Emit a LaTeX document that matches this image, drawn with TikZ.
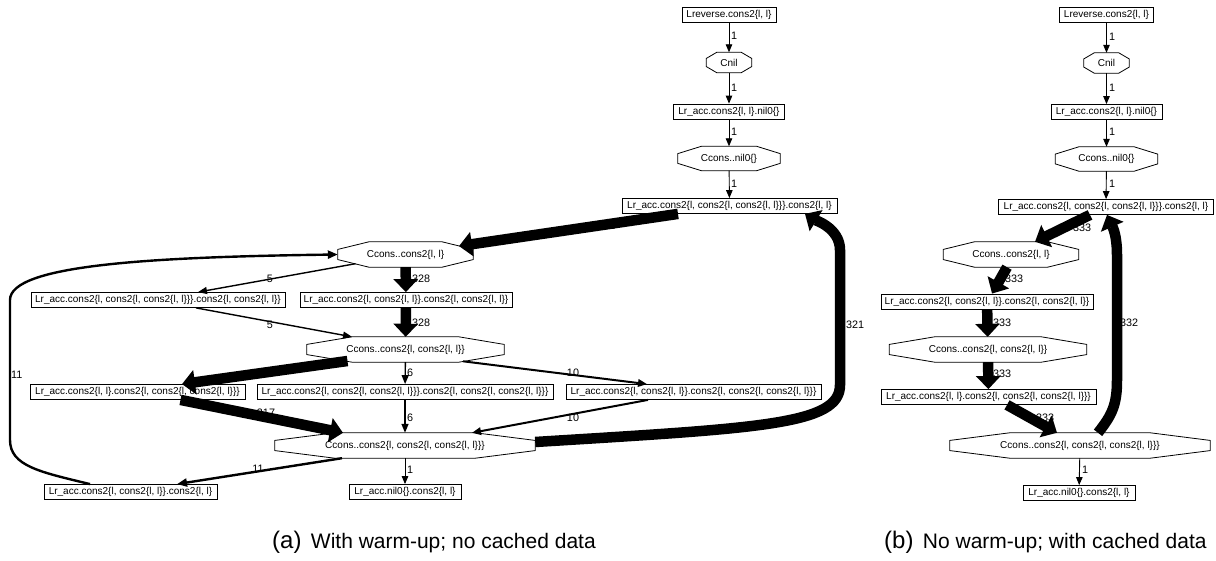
\documentclass[tikz,border=0pt]{standalone}
\usepackage{fontspec}
\setmainfont{Liberation Sans}
\usetikzlibrary{arrows.meta,calc}
\begin{document}
\begin{tikzpicture}[x=1pt,y=-1pt,
  every node/.style={font=\fontsize{10}{12}\selectfont},
  box/.style={draw, line width=0.8pt, rectangle, minimum height=15pt, inner xsep=1pt, inner ysep=0pt},
  octnode/.style={rectangle, minimum height=25pt, inner sep=0pt},
  octline/.style={draw, line width=0.8pt},
  lab/.style={inner sep=0pt, anchor=west, font=\fontsize{10.8}{12}\selectfont},
  labc/.style={inner sep=0pt, font=\fontsize{10.8}{12}\selectfont},
  capt/.style={inner sep=0pt, font=\fontsize{21}{24}\selectfont},
  tag/.style={inner sep=0pt, font=\fontsize{24}{28}\selectfont},
  e1/.style={draw, line width=0.9pt, -{Triangle[length=8pt,width=6.5pt]}},
  e5/.style={draw, line width=1.4pt, -{Triangle[length=9pt,width=7pt]}},
  e10/.style={draw, line width=2pt, -{Triangle[length=9pt,width=7.5pt]}},
  e11/.style={draw, line width=2.4pt, -{Triangle[length=10pt,width=8pt]}},
  ethick/.style={draw, line width=10.5pt, -{Triangle[length=13pt,width=24pt]}},
]
\useasboundingbox (0,0) rectangle (1216,561);

% ---------- graph (a) ----------
\node[box, minimum width=94pt] (a1) at (729,14.5) {Lreverse.cons2\{l, l\}};
\node[octnode, minimum width=45pt, minimum height=20pt] (a2) at (729,62.5) {Cnil};
\node[box, minimum width=111pt] (a3) at (729,111.5) {Lr\_acc.cons2\{l, l\}.nil0\{\}};
\node[octnode, minimum width=102pt, minimum height=24pt] (a4) at (729,158.5) {Ccons..nil0\{\}};
\node[box, minimum width=215pt] (a5) at (729.5,206) {Lr\_acc.cons2\{l, cons2\{l, cons2\{l, l\}\}\}.cons2\{l, l\}};
\node[octnode, minimum width=135pt] (a6) at (405.5,254.5) {Ccons..cons2\{l, l\}};
\node[box, minimum width=254pt] (a7) at (158,300) {Lr\_acc.cons2\{l, cons2\{l, cons2\{l, l\}\}\}.cons2\{l, cons2\{l, l\}\}};
\node[box, minimum width=212pt] (a8) at (406,300) {Lr\_acc.cons2\{l, cons2\{l, l\}\}.cons2\{l, cons2\{l, l\}\}};
\node[octnode, minimum width=197pt] (a9) at (405.5,349.5) {Ccons..cons2\{l, cons2\{l, l\}\}};
\node[box, minimum width=215pt] (a10) at (137.5,392) {Lr\_acc.cons2\{l, l\}.cons2\{l, cons2\{l, cons2\{l, l\}\}\}};
\node[box, minimum width=296pt] (a11) at (405,392) {Lr\_acc.cons2\{l, cons2\{l, cons2\{l, l\}\}\}.cons2\{l, cons2\{l, cons2\{l, l\}\}\}};
\node[box, minimum width=255pt] (a12) at (693.5,392) {Lr\_acc.cons2\{l, cons2\{l, l\}\}.cons2\{l, cons2\{l, cons2\{l, l\}\}\}};
\node[octnode, minimum width=260pt] (a13) at (405,445.5) {Ccons..cons2\{l, cons2\{l, cons2\{l, l\}\}\}};
\node[box, minimum width=173pt] (a14) at (130.5,492) {Lr\_acc.cons2\{l, cons2\{l, l\}\}.cons2\{l, l\}};
\node[box, minimum width=112pt] (a15) at (405,492) {Lr\_acc.nil0\{\}.cons2\{l, l\}};

% ---------- graph (b) ----------
\node[box, minimum width=94pt] (b1) at (1106.5,15) {Lreverse.cons2\{l, l\}};
\node[octnode, minimum width=45pt, minimum height=20pt] (b2) at (1106.5,63) {Cnil};
\node[box, minimum width=111pt] (b3) at (1106.5,112) {Lr\_acc.cons2\{l, l\}.nil0\{\}};
\node[octnode, minimum width=102pt, minimum height=24pt] (b4) at (1106.5,159) {Ccons..nil0\{\}};
\node[box, minimum width=215pt] (b5) at (1106,207) {Lr\_acc.cons2\{l, cons2\{l, cons2\{l, l\}\}\}.cons2\{l, l\}};
\node[octnode, minimum width=135pt] (b6) at (1011,254.5) {Ccons..cons2\{l, l\}};
\node[box, minimum width=212pt] (b7) at (987,301.5) {Lr\_acc.cons2\{l, cons2\{l, l\}\}.cons2\{l, cons2\{l, l\}\}};
\node[octnode, minimum width=197pt] (b8) at (988,349.5) {Ccons..cons2\{l, cons2\{l, l\}\}};
\node[box, minimum width=215pt] (b9) at (988.5,397) {Lr\_acc.cons2\{l, l\}.cons2\{l, cons2\{l, cons2\{l, l\}\}\}};
\node[octnode, minimum width=260pt] (b10) at (1080,445.5) {Ccons..cons2\{l, cons2\{l, cons2\{l, l\}\}\}};
\node[box, minimum width=112pt] (b11) at (1079,493) {Lr\_acc.nil0\{\}.cons2\{l, l\}};

% octagon outlines around the C-nodes
\foreach \n in {a2,a4,a6,a9,a13,b2,b4,b6,b8,b10}{
  \draw[octline]
    ($(\n.north west)!0.23!(\n.north east)$) -- ($(\n.north west)!0.77!(\n.north east)$)
    -- ($(\n.east)!0.4!(\n.north east)$) -- ($(\n.east)!0.4!(\n.south east)$)
    -- ($(\n.south west)!0.77!(\n.south east)$) -- ($(\n.south west)!0.23!(\n.south east)$)
    -- ($(\n.west)!0.4!(\n.south west)$) -- ($(\n.west)!0.4!(\n.north west)$) -- cycle;
}

% labels that lie under the heavy arrows
\node[labc] (la5) at (606,226) {322};
\node[labc] (la10) at (262,374) {317};
\node[labc] (la13) at (266,413) {317};
\node[labc] (lb5) at (1082,228) {333};
\node[labc] (lb9) at (1045,418) {333};

% ---------- edges (a) ----------
\draw[e1] (a1) -- (a2);
\draw[e1] (a2) -- (a3);
\draw[e1] (a3) -- (a4);
\draw[e1] (a4) -- (a5);
\draw[ethick] ($(a5.south)+(-51.5,0)$) -- ($(a6)+(53.5,-8.4)$);
\draw[e5] ($(a6)+(-50,9.2)$) -- ($(a7.north)+(40,0)$);
\draw[ethick] (a6) -- (a8);
\draw[e5] ($(a7.south)+(38,0)$) -- ($(a9.north)+(-53.5,0)$);
\draw[ethick] (a8) -- (a9);
\draw[ethick] ($(a9)+(-58,11.5)$) -- ($(a10.north)+(44.5,0)$);
\draw[e5] (a9) -- (a11);
\draw[e10] ($(a9)+(57.5,11.8)$) -- ($(a12.north)+(-46.5,0)$);
\draw[ethick] ($(a10.south)+(43,0)$) -- ($(a13.north)+(-62,0)$);
\draw[e5] (a11) -- (a13);
\draw[e10] ($(a12.south)+(-45.5,0)$) -- ($(a13.north)+(67,0)$);
\draw[e11] ($(a13.south)+(-63,0)$) -- ($(a14.north)+(46.5,0)$);
\draw[e1] (a13) -- (a15);
\draw[ethick] ($(a13.east)+(0,-3.5)$) .. controls (760,428) and (840,425) .. (840,385)
  -- (840,250) .. controls (840,228) and (815,220) .. ($(a5.south)+(75.5,0)$);
\draw[e11] ($(a14.north)+(-40.5,0)$) .. controls (40,472) and (10,466) .. (10,440)
  -- (10,300) .. controls (10,265) and (150,257) .. (a6.west);

% ---------- edges (b) ----------
\draw[e1] (b1) -- (b2);
\draw[e1] (b2) -- (b3);
\draw[e1] (b3) -- (b4);
\draw[e1] (b4) -- (b5);
\draw[ethick] ($(b5.south)+(-16,0)$) -- ($(b6.north)+(24,0)$);
\draw[ethick] ($(b6.south)+(-4,0)$) -- ($(b7.north)+(5,0)$);
\draw[ethick] (b7) -- (b8);
\draw[ethick] (b8) -- (b9);
\draw[ethick] ($(b9.south)+(18.5,0)$) -- ($(b10.north)+(-23,0)$);
\draw[ethick] ($(b10.north)+(18,0)$) .. controls (1112,415) and (1117,405) .. (1117,380)
  -- (1117,255) .. controls (1117,232) and (1111,224) .. ($(b5.south)+(1,0)$);
\draw[e1] (b10) -- (b11);

% ---------- edge labels ----------
\node[lab] (l1) at (731,36) {1};
\node[lab] (l2) at (731,88) {1};
\node[lab] (l3) at (731,132) {1};
\node[lab] (l4) at (731,184) {1};
\node[labc] (l6) at (270,279) {5};
\node[lab] (l7) at (412,279) {328};
\node[labc] (l8) at (270,325) {5};
\node[lab] (l9) at (412,323) {328};
\node[lab] (l11) at (407,373) {6};
\node[labc] (l12) at (573,373) {10};
\node[lab] (l14) at (407,418) {6};
\node[labc] (l15) at (573,418) {10};
\node[labc] (l16) at (258,469) {11};
\node[lab] (l17) at (407,470) {1};
\node[lab] (l18) at (846,325) {321};
\node[lab] (l19) at (11,375) {11};

\node[lab] (m1) at (1109,37) {1};
\node[lab] (m2) at (1109,88) {1};
\node[lab] (m3) at (1109,132) {1};
\node[lab] (m4) at (1109,184) {1};
\node[lab] (m6) at (1005,279) {333};
\node[lab] (m7) at (993,323) {333};
\node[lab] (m8) at (993,374) {333};
\node[lab] (m10) at (1120,323) {332};
\node[lab] (m11) at (1082,470) {1};

% ---------- captions ----------
\node[tag, anchor=base west] (tga) at (272,548) {(a)};
\node[capt, anchor=base west] (capa) at ([xshift=9pt]tga.base east) {With warm-up; no cached data};
\node[tag, anchor=base west] (tgb) at (884,548) {(b)};
\node[capt, anchor=base west] (capb) at ([xshift=9pt]tgb.base east) {No warm-up; with cached data};
\end{tikzpicture}
\end{document}
